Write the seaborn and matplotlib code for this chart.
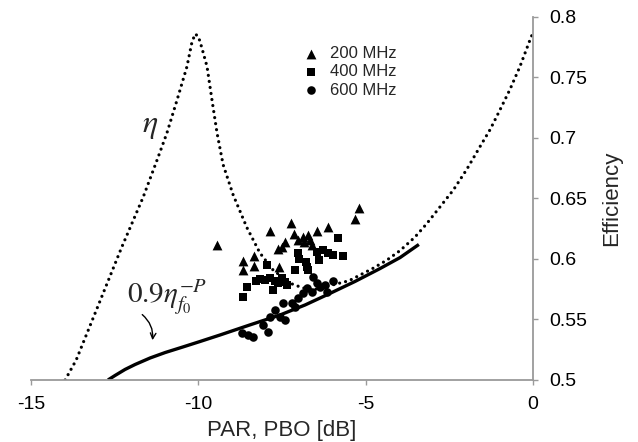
import numpy as np
import pandas as pd
import matplotlib
matplotlib.use("Agg")
import matplotlib.pyplot as plt
import seaborn as sns

# ---- data ----
eta_x = [-13.98, -13.65, -13.0, -12.3, -11.65, -11.23, -10.94, -10.64, -10.34, -10.2, -10.1,
         -10.0, -9.9, -9.74, -9.59, -9.44, -9.26, -8.96, -8.55, -8.16, -7.77, -7.26, -6.87,
         -6.5, -5.5, -4.8, -4.37, -3.97, -3.53, -3.18, -2.78, -2.38, -1.98, -1.58, -1.28,
         -0.99, -0.69, -0.39, -0.09, 0.0]
eta_y = [0.500, 0.5165, 0.561, 0.609, 0.651, 0.682, 0.704, 0.731, 0.759, 0.778, 0.786,
         0.784, 0.775, 0.759, 0.731, 0.704, 0.678, 0.653, 0.626, 0.605, 0.591, 0.580, 0.576,
         0.575, 0.582, 0.592, 0.599, 0.607, 0.618, 0.629, 0.643, 0.657, 0.674, 0.693, 0.707,
         0.723, 0.740, 0.759, 0.781, 0.787]

bound_x = [-12.70, -12.49, -12.19, -11.89, -11.44, -10.99, -10.46, -9.95, -9.35, -8.46,
           -7.56, -6.81, -6.07, -5.32, -4.57, -3.97, -3.41]
bound_y = [0.5000, 0.5037, 0.5087, 0.5128, 0.5182, 0.5227, 0.5273, 0.5318, 0.5372, 0.5455,
           0.5537, 0.5620, 0.5715, 0.5814, 0.5921, 0.6012, 0.6120]

f200_x = [-9.45, -8.67, -8.67, -8.34, -8.34, -7.86, -7.58, -7.61, -7.51, -7.41, -7.24, -7.14,
          -7.01, -6.88, -6.84, -6.71, -6.66, -6.61, -6.46, -6.13, -5.32, -5.20]
f200_y = [0.6116, 0.5986, 0.591, 0.6027, 0.5942, 0.6231, 0.5937, 0.608, 0.610, 0.614, 0.6295,
          0.6207, 0.6157, 0.6185, 0.614, 0.620, 0.6157, 0.6116, 0.6234, 0.6267, 0.6328, 0.6419]

f400_x = [-8.66, -8.54, -8.28, -8.16, -7.96, -8.01, -7.86, -7.76, -7.71, -7.61, -7.51, -7.41,
          -7.36, -7.11, -7.01, -6.98, -6.78, -6.76, -6.73, -6.46, -6.38, -6.27, -6.12, -5.97,
          -5.82, -5.69]
f400_y = [0.5689, 0.5766, 0.582, 0.5832, 0.595, 0.5826, 0.584, 0.5744, 0.582, 0.580, 0.584,
          0.5812, 0.5785, 0.591, 0.6047, 0.600, 0.5978, 0.5937, 0.591, 0.606, 0.5992, 0.6074,
          0.6047, 0.6033, 0.6176, 0.6025]

f600_x = [-8.70, -8.51, -8.36, -8.06, -7.91, -7.86, -7.71, -7.56, -7.46, -7.41, -7.21, -7.11,
          -7.01, -6.86, -6.76, -6.61, -6.56, -6.46, -6.36, -6.21, -5.97, -6.16]
f600_y = [0.5386, 0.5372, 0.5358, 0.5455, 0.540, 0.5523, 0.5579, 0.5523, 0.5634, 0.5496,
          0.5634, 0.5606, 0.5675, 0.5716, 0.5758, 0.573, 0.5854, 0.580, 0.5771, 0.5785,
          0.582, 0.573]

labels = ["200 MHz", "400 MHz", "600 MHz"]
x_ticks = [-15, -10, -5, 0]
y_ticks = [0.5, 0.55, 0.6, 0.65, 0.7, 0.75, 0.8]
y_tick_labels = ["0.5", "0.55", "0.6", "0.65", "0.7", "0.75", "0.8"]

# ---- figure ----
sns.set_style("white")
plt.rcParams["font.family"] = ["Liberation Sans", "DejaVu Sans"]
plt.rcParams["mathtext.fontset"] = "stix"

fig = plt.figure(figsize=(6.38, 4.42), dpi=100)
ax = fig.add_axes([0.0486, 0.1403, 0.7868, 0.8213])

eta_df = pd.DataFrame({"x": eta_x, "y": eta_y})
bound_df = pd.DataFrame({"x": bound_x, "y": bound_y})
sns.lineplot(data=eta_df, x="x", y="y", sort=False, estimator=None, ax=ax, color="black",
             lw=2.3, linestyle=(0, (0.01, 1.9)), dash_capstyle="round")
sns.lineplot(data=bound_df, x="x", y="y", sort=False, estimator=None, ax=ax, color="black",
             lw=2.4, solid_capstyle="butt", solid_joinstyle="round")

series = [(f200_x, f200_y, "^", 50), (f400_x, f400_y, "s", 34), (f600_x, f600_y, "o", 38)]
for (sx, sy, mk, sz), lab in zip(series, labels):
    sns.scatterplot(x=sx, y=sy, marker=mk, s=sz, color="black", linewidth=0,
                    ax=ax, label=lab, zorder=3)

leg = ax.legend(loc="upper left", bbox_to_anchor=(0.545, 0.92), frameon=False, fontsize=12,
                handlelength=0.8, handletextpad=0.7, labelspacing=0.2,
                borderaxespad=0, borderpad=0)

ax.set_xlim(-15, 0)
ax.set_ylim(0.5, 0.8)
ax.set_xticks(x_ticks)
ax.set_xticklabels([str(t) for t in x_ticks])
ax.set_yticks(y_ticks)
ax.set_yticklabels(y_tick_labels)
ax.yaxis.tick_right()
ax.yaxis.set_label_position("right")
ax.set_xlabel("PAR, PBO [dB]", fontsize=16, labelpad=5)
ax.set_ylabel("Efficiency", fontsize=16, labelpad=10)

gray = "#9a9a9a"
for side in ["top", "left"]:
    ax.spines[side].set_visible(False)
for side in ["right", "bottom"]:
    ax.spines[side].set_color(gray)
    ax.spines[side].set_linewidth(1.3)
ax.tick_params(axis="both", colors=gray, labelcolor="black", labelsize=14,
               direction="out", length=3.5, width=1.0, pad=8)
ax.tick_params(axis="x", bottom=True)
ax.tick_params(axis="y", right=True, left=False)

# annotations
ax.text(-11.44, 0.71, r"$\eta$", fontsize=23, ha="center", va="center")
ax.text(-12.12, 0.5636, r"$0.9\eta_{f_0}^{-P}$", fontsize=21, ha="left", va="baseline")
ax.annotate("", xy=(-11.38, 0.5306), xytext=(-11.74, 0.5555),
            arrowprops=dict(arrowstyle="->", color="black", lw=1.0,
                            connectionstyle="arc3,rad=-0.3"))

fig.savefig("out.png", dpi=100)
